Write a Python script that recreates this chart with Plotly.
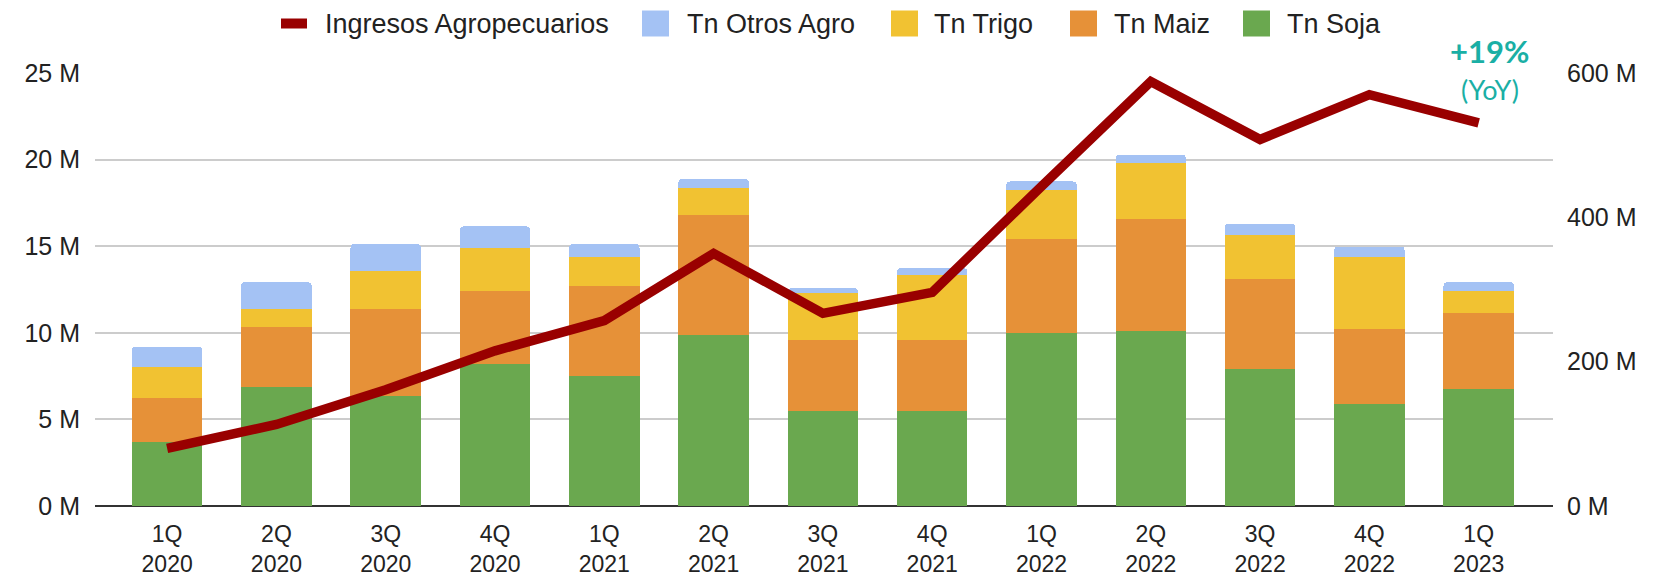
"""
Agro volumes by quarter (stacked tons) with agro revenue line
"""
import plotly.graph_objects as go

quarters = ['1Q<br>2020', '2Q<br>2020', '3Q<br>2020', '4Q<br>2020',
            '1Q<br>2021', '2Q<br>2021', '3Q<br>2021', '4Q<br>2021',
            '1Q<br>2022', '2Q<br>2022', '3Q<br>2022', '4Q<br>2022',
            '1Q<br>2023']

tn_soja = [3.68, 6.89, 6.37, 8.18, 7.53, 9.88, 5.47, 5.49, 10.01, 10.13, 7.91, 5.87, 6.76]
tn_maiz = [2.58, 3.47, 5.01, 4.26, 5.18, 6.93, 4.12, 4.10, 5.40, 6.43, 5.19, 4.36, 4.39]
tn_trigo = [1.79, 1.04, 2.21, 2.45, 1.66, 1.54, 2.70, 3.75, 2.85, 3.24, 2.56, 4.14, 1.29]
tn_otros = [1.15, 1.52, 1.53, 1.25, 0.75, 0.52, 0.29, 0.39, 0.48, 0.48, 0.63, 0.61, 0.48]
ingresos = [80, 113, 161, 215, 257, 350, 267, 296, 443, 588, 508, 570, 531]

left_ticks = [0, 5, 10, 15, 20, 25]
left_labels = ['0 M', '5 M', '10 M', '15 M', '20 M', '25 M']
right_ticks = [0, 200, 400, 600]
right_labels = ['0 M', '200 M', '400 M', '600 M']

FONT = 'Liberation Sans, Arial, sans-serif'
TEAL = '#1aafa5'
COLORS = {'Tn Soja': '#6aa84f', 'Tn Maiz': '#e69138', 'Tn Trigo': '#f1c232',
          'Tn Otros Agro': '#a4c2f4', 'Ingresos Agropecuarios': '#990000'}

# target plot area on the page (the html body adds an 8px margin)
PAGE_OFF = 8
W, H = 1660 - PAGE_OFF, 578 - PAGE_OFF
X0, X1, Y0, Y1 = 95, 1553, 73, 506
PW, PH = X1 - X0, Y1 - Y0
L, T = X0 - PAGE_OFF, Y0 - PAGE_OFF
R, B = W - L - PW, H - T - PH


def px_x(px):
    return (px - X0) / PW


def px_y(py):
    return (Y1 - py) / PH


fig = go.Figure()
for name, vals in [('Tn Soja', tn_soja), ('Tn Maiz', tn_maiz),
                   ('Tn Trigo', tn_trigo), ('Tn Otros Agro', tn_otros)]:
    fig.add_trace(go.Bar(name=name, x=quarters, y=vals, marker_color=COLORS[name],
                         marker_line_width=0))

fig.add_trace(go.Scatter(
    name='Ingresos Agropecuarios', x=quarters, y=ingresos, yaxis='y2',
    mode='lines', line=dict(color=COLORS['Ingresos Agropecuarios'], width=9.5)
))

fig.update_layout(
    width=W, height=H,
    margin=dict(l=L, r=R, t=T, b=B, autoexpand=False),
    paper_bgcolor='white', plot_bgcolor='white',
    font=dict(family=FONT, size=25, color='#222222'),
    barmode='stack', bargap=0.355, barcornerradius=4,
    showlegend=False,
    xaxis=dict(range=[-0.66, 12.68], showgrid=False, ticks='', showline=False,
               tickfont=dict(size=23), ticklabelstandoff=12),
    yaxis=dict(range=[0, 25], tickvals=left_ticks, ticktext=left_labels,
               showgrid=True, gridcolor='#cccccc', gridwidth=1.5,
               zeroline=True, zerolinecolor='#333333', zerolinewidth=2,
               ticks='', ticklabelstandoff=14),
    yaxis2=dict(range=[0, 600], tickvals=right_ticks, ticktext=right_labels,
                overlaying='y', side='right', showgrid=False, zeroline=False,
                ticks='', ticklabelstandoff=13),
)

# legend drawn by hand so the swatches match the original size
legend_y = 23.5
fig.add_shape(type='rect', xref='paper', yref='paper',
              x0=px_x(281), x1=px_x(307), y0=px_y(legend_y + 5), y1=px_y(legend_y - 5),
              fillcolor=COLORS['Ingresos Agropecuarios'], line_width=0)
fig.add_annotation(xref='paper', yref='paper', x=px_x(323), y=px_y(legend_y),
                   xanchor='left', yanchor='middle', showarrow=False,
                   text='Ingresos Agropecuarios', font=dict(size=27))
for name, box_x, text_x in [('Tn Otros Agro', 642, 685), ('Tn Trigo', 891, 932),
                            ('Tn Maiz', 1070, 1112), ('Tn Soja', 1243, 1285)]:
    fig.add_shape(type='rect', xref='paper', yref='paper',
                  x0=px_x(box_x), x1=px_x(box_x + 27),
                  y0=px_y(legend_y + 13), y1=px_y(legend_y - 13),
                  fillcolor=COLORS[name], line_width=0)
    fig.add_annotation(xref='paper', yref='paper', x=px_x(text_x), y=px_y(legend_y),
                       xanchor='left', yanchor='middle', showarrow=False,
                       text=name, font=dict(size=27))

fig.add_annotation(xref='paper', yref='paper', x=px_x(1489), y=px_y(51),
                   xanchor='center', yanchor='middle', showarrow=False,
                   text='<b>+19%</b>', font=dict(family='Lato, sans-serif', size=31, color=TEAL))
fig.add_annotation(xref='paper', yref='paper', x=px_x(1490), y=px_y(89),
                   xanchor='center', yanchor='middle', showarrow=False,
                   text='(YoY)', font=dict(family='Lato, sans-serif', size=27, color=TEAL))

fig.write_html("out.html")
